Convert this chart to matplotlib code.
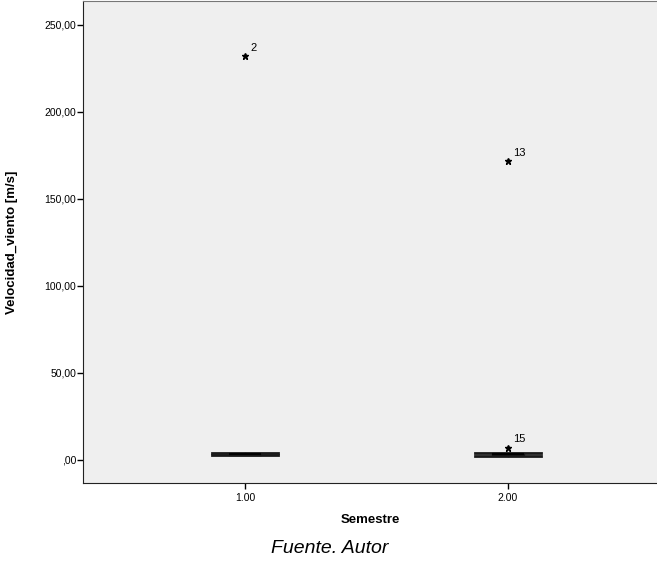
import matplotlib.pyplot as plt

plt.rcParams["font.family"] = ["Liberation Sans", "DejaVu Sans"]

# datos
semestres = [1.00, 2.00]
etiquetas = ["1.00", "2.00"]
whislo = [2.4, 2.3]
q1 = [2.7, 2.6]
mediana = [3.0, 3.0]
q3 = [3.4, 3.5]
whishi = [3.6, 3.7]
atipicos = [[231.9], [171.5, 6.8]]
casos = [["2"], ["13", "15"]]

stats = []
for i in range(len(semestres)):
    stats.append({
        "whislo": whislo[i], "q1": q1[i], "med": mediana[i],
        "q3": q3[i], "whishi": whishi[i], "fliers": atipicos[i],
    })

fig = plt.figure(figsize=(6.57, 5.64), dpi=100)
ax = fig.add_axes([0.1263, 0.1436, 0.8737, 0.8546])
ax.set_facecolor("#efefef")

ax.bxp(stats, positions=semestres, widths=0.12, patch_artist=True,
       boxprops=dict(facecolor="#3a3830", edgecolor="black", linewidth=1),
       medianprops=dict(color="black", linewidth=1.5),
       whiskerprops=dict(color="black", linewidth=1),
       capprops=dict(color="#1a1a1a", linewidth=2),
       capwidths=0.25,
       flierprops=dict(marker="*", markerfacecolor="black",
                       markeredgecolor="black", markersize=5, linestyle="none"))

for i, x in enumerate(semestres):
    for v, c in zip(atipicos[i], casos[i]):
        ax.text(x + 0.02, v + 2, c, fontsize=8, ha="left", va="bottom")

ax.set_xlim(0.384, 2.567)
ax.set_ylim(-13.5, 263.5)
ax.set_xticks(semestres)
ax.set_xticklabels(etiquetas, fontsize=7.5)
ticks = [0, 50, 100, 150, 200, 250]
ax.set_yticks(ticks)
ax.set_yticklabels([",00", "50,00", "100,00", "150,00", "200,00", "250,00"], fontsize=7.5)
ax.tick_params(axis="y", length=4, width=1, pad=1)
ax.tick_params(axis="x", length=4, width=1, pad=3)

for s in ["left", "bottom"]:
    ax.spines[s].set_color("#222222")
ax.spines["right"].set_visible(False)
ax.spines["top"].set_color("#777777")

ax.set_xlabel("Semestre", fontsize=9.5, fontweight="bold")
ax.xaxis.set_label_coords(0.5, -0.065)
ax.set_ylabel("Velocidad_viento [m/s]", fontsize=9.5, fontweight="bold")
ax.yaxis.set_label_coords(-0.113, 0.5)

fig.text(0.502, 0.028, "Fuente. Autor", fontsize=14, style="italic",
         ha="center", va="center")

fig.savefig("out.png", dpi=100)
